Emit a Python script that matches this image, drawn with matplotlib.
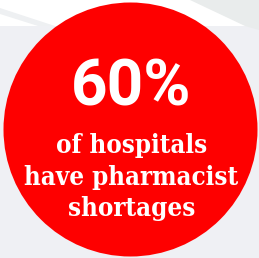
import matplotlib.pyplot as plt
from matplotlib.patches import Circle, Polygon

# Data
share_pct = 60
caption_lines = ["of hospitals", "have pharmacist", "shortages"]

BG = "#eff0f4"
RED = "#fe0000"

fig = plt.figure(figsize=(2.59, 2.58), dpi=100)
ax = fig.add_axes([0, 0, 1, 1])
ax.set_xlim(0, 259)
ax.set_ylim(258, 0)
ax.axis("off")
fig.patch.set_facecolor(BG)

# light top band with diagonal stripes
ax.add_patch(Polygon([(0, 0), (259, 0), (259, 26), (0, 26)], closed=True,
                     facecolor="white", edgecolor="none"))
ax.add_patch(Polygon([(0, 8), (0, 14), (38, 26), (55, 26)], closed=True,
                     facecolor="#eef0f2", edgecolor="none"))
ax.add_patch(Polygon([(190, 0), (259, 0), (259, 30), (245, 26)], closed=True,
                     facecolor="#e9ecec", edgecolor="none"))

# red disc
ax.add_patch(Circle((130.5, 129.5), 127, facecolor=RED, edgecolor="none"))

ax.text(131, 88, f"{share_pct}%", ha="center", va="center", color="white",
        fontsize=46, fontweight="bold", family="Roboto")

baselines = [153, 185, 216]
for line, y in zip(caption_lines, baselines):
    ax.text(131.5, y, line, ha="center", va="baseline", color="white",
            fontsize=18.5, fontweight="bold", family="DejaVu Serif",
            fontstretch="condensed")

fig.savefig("out.png", dpi=100, facecolor=BG)
